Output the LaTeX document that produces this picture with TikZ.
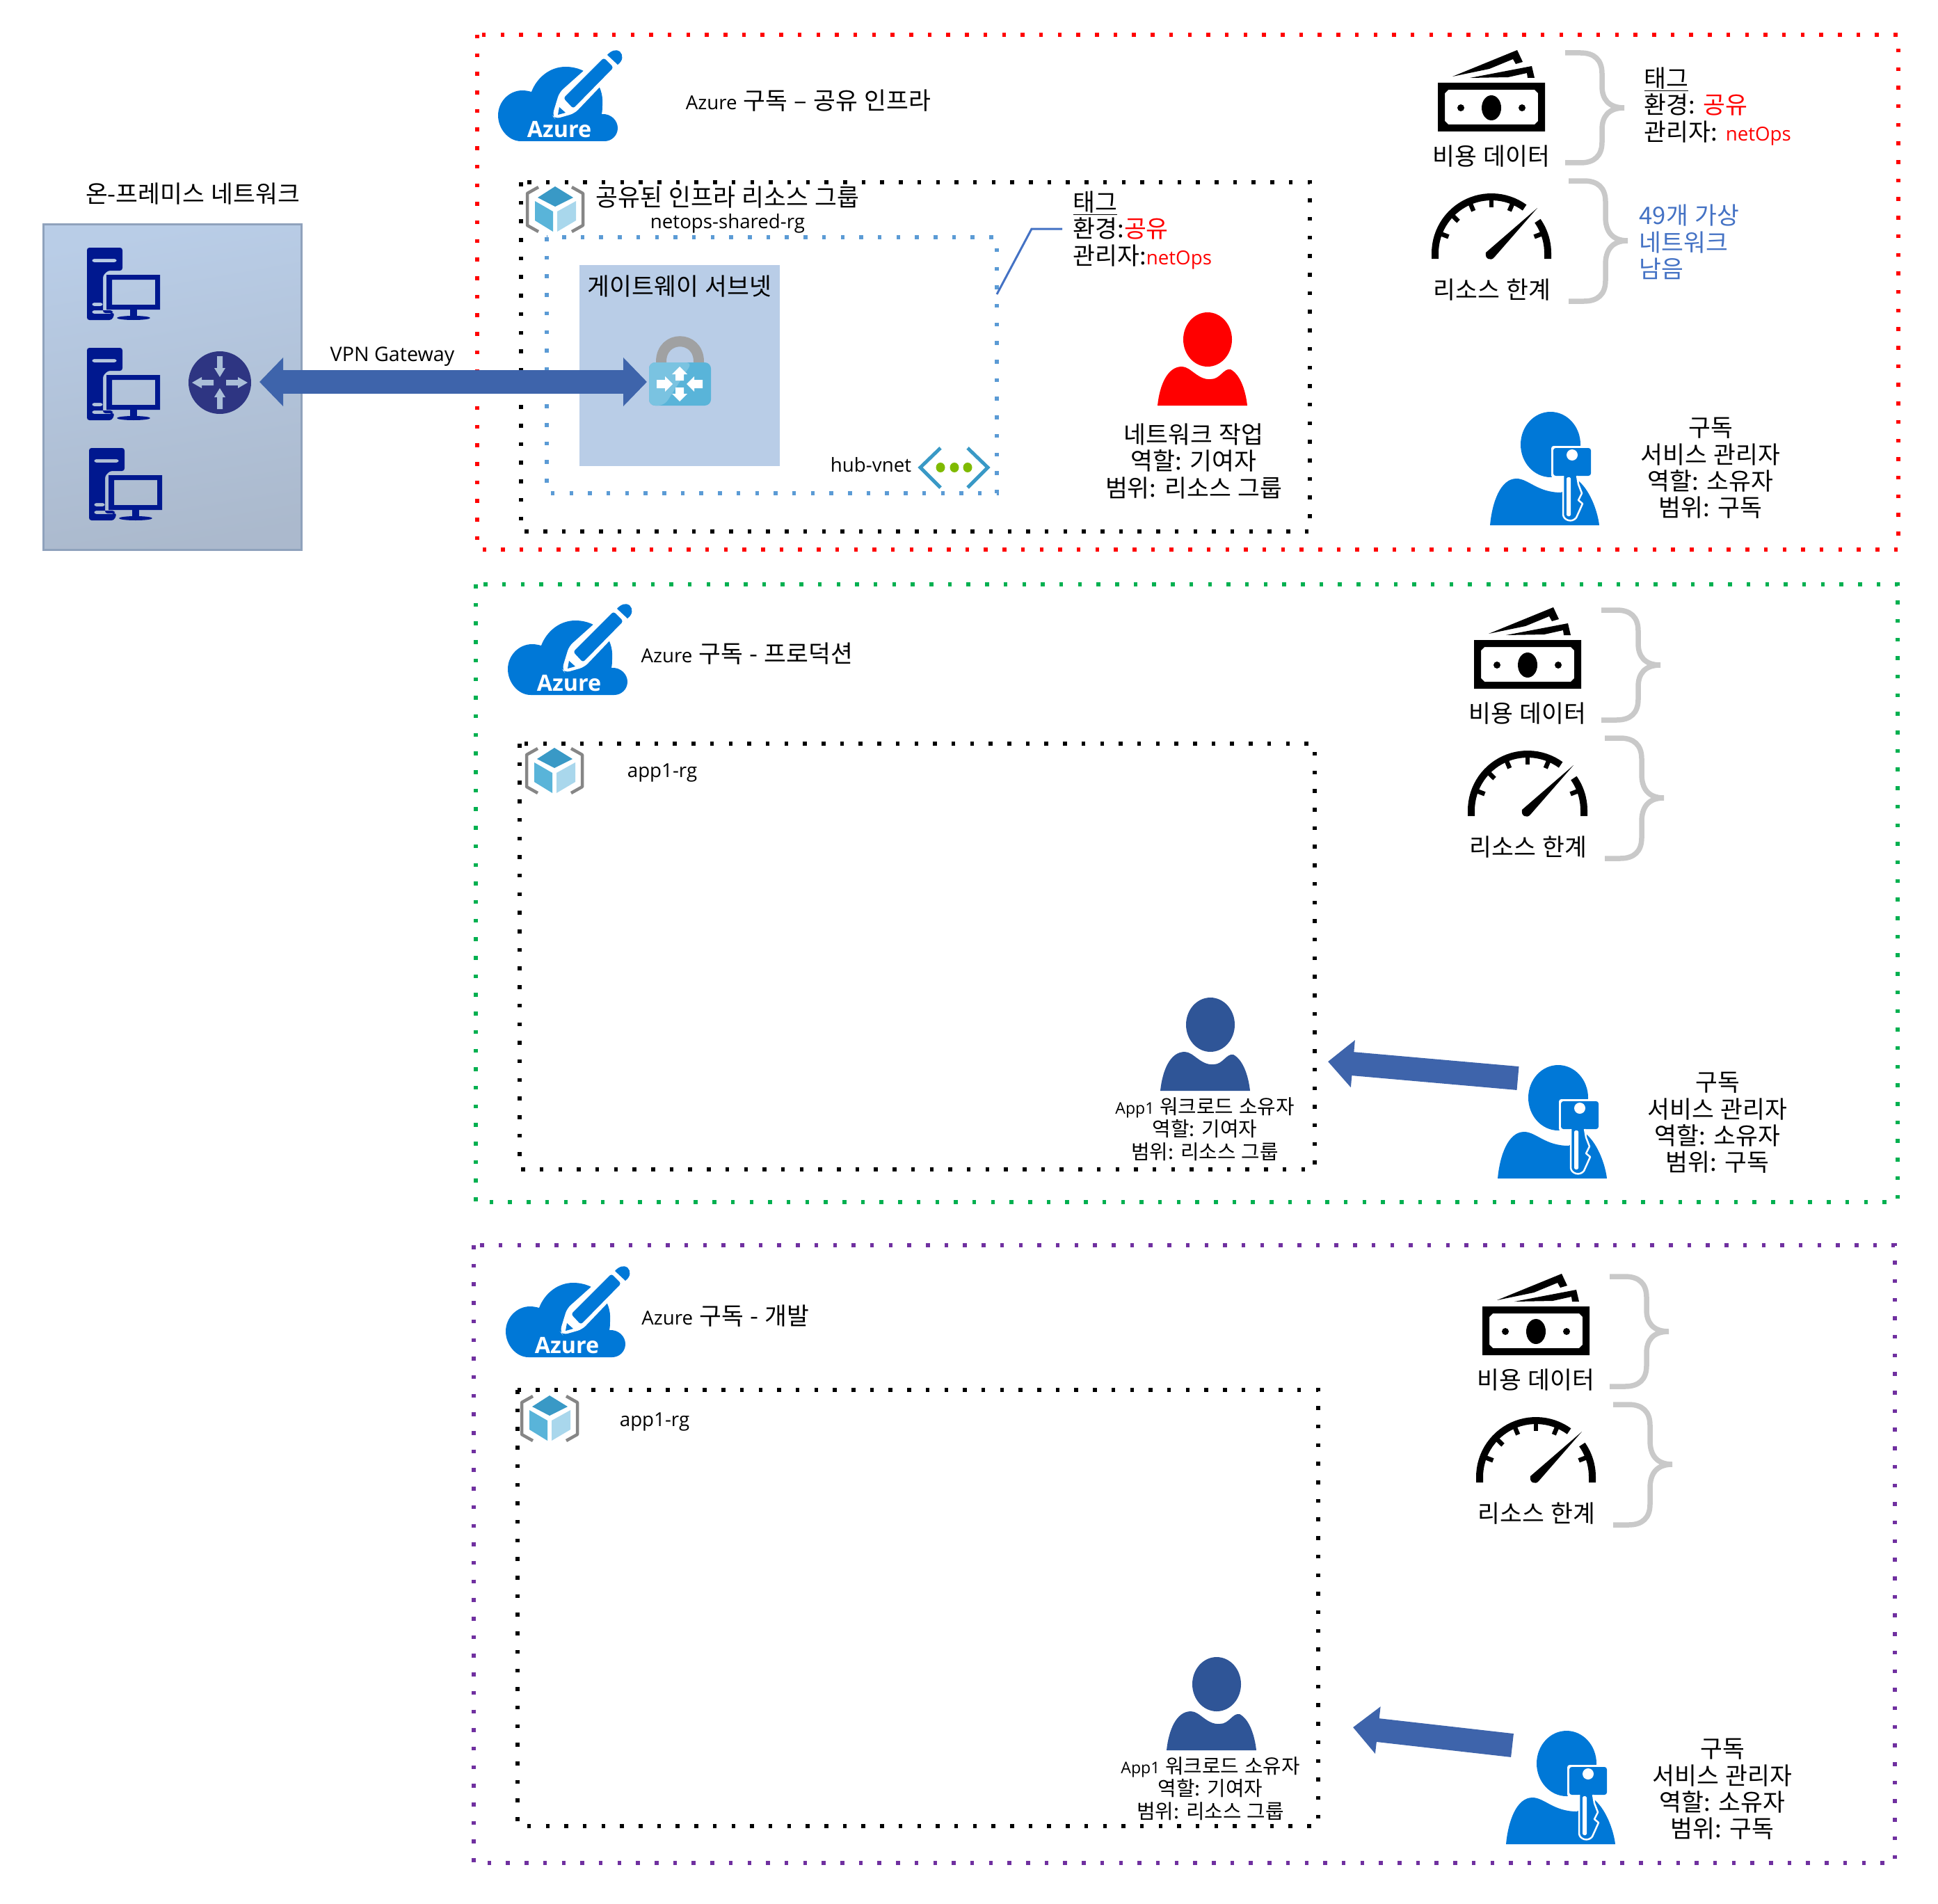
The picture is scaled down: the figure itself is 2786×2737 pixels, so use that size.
\documentclass[tikz,border=0pt]{standalone}
\usepackage{fontspec}
\setmainfont{Noto Sans CJK KR}[WordSpace=1.2]
\newfontfamily\lat[Scale=0.80]{Open Sans}
\usetikzlibrary{arrows.meta}
\definecolor{azblue}{HTML}{0078D7}
\definecolor{fatblue}{HTML}{3E64AB}
\definecolor{srvblue}{HTML}{00188F}
\definecolor{linkblue}{HTML}{4472C4}
\definecolor{owner}{HTML}{2F5597}
\definecolor{brace}{HTML}{C9C9C9}
\definecolor{subnet}{HTML}{B9CDE7}
\definecolor{boxedge}{HTML}{8FA2BC}
\definecolor{cubetop}{HTML}{3999C6}
\definecolor{cubeleft}{HTML}{59B4D9}
\definecolor{cuberight}{HTML}{A9D7EC}
\definecolor{routerblue}{HTML}{2E3582}
\definecolor{greendot}{HTML}{7FBA00}
\definecolor{greenframe}{HTML}{00B050}
\definecolor{purpleframe}{HTML}{7030A0}
\definecolor{hubdot}{HTML}{5B9BD5}
\definecolor{shackle}{HTML}{A0A1A2}
\newcommand{\ulined}[1]{\leavevmode\setbox0=\hbox{#1}\rlap{\rule[-1.6pt]{\wd0}{0.5pt}}\box0}

\tikzset{
  txt/.style={inner sep=0pt, align=center, font=\fontsize{9.85}{10.9}\selectfont},
  txtl/.style={txt, align=left, anchor=west},
  small/.style={inner sep=0pt, align=center, font=\fontsize{8.2}{9.3}\selectfont},
  frame/.style={line width=0.55mm, dash pattern=on 0.55mm off 2.12mm},
  fat/.style={fatblue, line width=3.4mm},
  % icons, drawn from their top left corner
  azureicon/.pic={
    \fill[azblue] (33,132) .. controls (14,132) and (0,113) .. (0,95)
      .. controls (0,75) and (16,59) .. (35,59) .. controls (40,59) and (44,60) .. (48,61)
      .. controls (56,40) and (75,25) .. (97,25) .. controls (130,25) and (152,50) .. (150,78)
      .. controls (150,84) and (150,88) .. (149,93) .. controls (162,92) and (172,102) .. (172,113)
      .. controls (172,124) and (163,132) .. (153,132) -- cycle;
    \fill[white, rounded corners=2pt] (154,3) -- (175,24) -- (110,92) -- (82,100) -- (78,95) -- (88,62) -- cycle;
    \fill[azblue, rounded corners=1pt] (152,12) -- (166,26) -- (108,85) -- (94,70) -- cycle;
    \fill[azblue] (88,83) -- (97,91) -- (86,94) -- cycle;
    \fill[azblue] (157,8) .. controls (162,2) and (170,-1) .. (175,3) .. controls (180,8) and (180,16) .. (172,22) -- cycle;
    \node[white, inner sep=0pt, font=\fontsize{11.5}{12}\selectfont\lat\bfseries] (-name) at (88,115) {Azure};
  },
  cubeicon/.pic={
    \draw[gray!95, line width=0.45mm, line join=round] (18,2) -- (2,11) -- (2,57) -- (18,66);
    \draw[gray!95, line width=0.45mm, line join=round] (66,2) -- (82,11) -- (82,57) -- (66,66);
    \fill[cubetop] (42,1) -- (68,17) -- (42,30) -- (17,17) -- cycle;
    \fill[cubeleft] (13,22) -- (39,37) -- (39,66) -- (13,50) -- cycle;
    \fill[cuberight] (45,37) -- (72,22) -- (72,50) -- (45,66) -- cycle;
  },
  servericon/.pic={
    \fill[srvblue, even odd rule, rounded corners=1pt]
      (0,0) -- (51,0) -- (51,33) -- (30,33) -- (23,40) -- (23,94) -- (40,94) -- (36,104) -- (0,104) -- cycle
      (7,16) rectangle (43,21) (7,79) rectangle (23,84) (7,90) rectangle (37,95);
    \fill[srvblue, even odd rule] (28,39) rectangle (105,89) (36,46) rectangle (98,82);
    \fill[srvblue] (62,89) rectangle (72,99);
    \fill[srvblue] (67,101) ellipse (24 and 3);
  },
  usericon/.pic={
    \fill[pic actions] (72,39) ellipse (35 and 39);
    \fill[pic actions] (0,134) .. controls (3,105) and (14,78) .. (35,78)
      .. controls (48,78) and (58,98) .. (77,96) .. controls (90,96) and (95,80) .. (105,82)
      .. controls (120,90) and (127,115) .. (129,134) -- cycle;
  },
  keyicon/.pic={
    \fill[azblue] (87,47) ellipse (43 and 47);
    \fill[azblue] (0,163) .. controls (3,130) and (15,96) .. (38,96)
      .. controls (55,96) and (68,116) .. (102,116) -- (128,100)
      .. controls (145,115) and (155,145) .. (157,163) -- cycle;
    \fill[white, rounded corners=1pt] (88,49) rectangle (147,95);
    \fill[azblue, rounded corners=1pt] (91,52) rectangle (145,92);
    \fill[white] (118,62) circle (8);
    \draw[white, fill=azblue, line width=0.25mm, line join=round] (105,92) -- (105,148)
      .. controls (106,156) and (118,160) .. (124,152) -- (129,141) -- (133,132) -- (127,127)
      -- (132,117) -- (127,104) -- (125,92);
    \fill[white, rounded corners=0.5pt] (110,94) rectangle (116,150);
  },
  moneyicon/.pic={
    \fill[even odd rule] (0,47) rectangle (154,117)
      (15,57) -- (139,57) -- (144,62) -- (144,102) -- (139,107) -- (15,107) -- (10,102) -- (10,62) -- cycle;
    \fill (77,83) ellipse (14 and 18);
    \fill (33,83) circle (5);
    \fill (121,83) circle (5);
    \fill (21,38) -- (114,0) -- (122,17) -- (112,20) -- (108,13) -- (74,27) -- cycle;
    \fill (46,40) -- (135,23) -- (139,40) -- (129,40) -- (128,33) -- (101,39) -- cycle;
  },
  gaugeicon/.pic={
    \draw[line width=1mm] (5,94) -- plot[domain=180:54, samples=30] ({86+81*cos(\x)},{86-81*sin(\x)});
    \draw[line width=1mm] plot[domain=35:0, samples=12] ({86+81*cos(\x)},{86-81*sin(\x)}) -- (167,94);
    \foreach \a in {21,67,90,113,136,159}
      \draw[line width=0.65mm] ({86+77*cos(\a)},{86-77*sin(\a)}) -- ({86+66*cos(\a)},{86-66*sin(\a)});
    \fill (152,21) -- (90,92) .. controls (85,98) and (76,94) .. (78,85) -- cycle;
  },
  costset/.pic={
    \pic at (0,0) {moneyicon};
    \node[txt] (-cost) at (77,153) {비용 데이터};
    \pic at (-9,206) {gaugeicon};
    \node[txt] (-limit) at (78,345) {리소스 한계};
    \draw[brace, line width=0.75mm] (183,4) -- (205,4) .. controls (225,4) and (236,14) .. (236,34) -- (236,52)
      .. controls (236,70) and (245,83) .. (268,83) .. controls (245,83) and (236,96) .. (236,114) -- (236,132)
      .. controls (236,152) and (225,162) .. (205,162) -- (183,162);
    \draw[brace, line width=0.75mm] (188,188) -- (210,188) .. controls (230,188) and (241,198) .. (241,218) -- (241,240)
      .. controls (241,260) and (250,274) .. (273,274) .. controls (250,274) and (241,288) .. (241,308) -- (241,331)
      .. controls (241,351) and (230,361) .. (210,361) -- (188,361);
  },
}

\begin{document}
\begin{tikzpicture}[x=0.1mm, y=-0.1mm, line cap=butt]
\useasboundingbox (0,0) rectangle (2786,2737);

% on-premises network
\node[txt] (onprem) at (277,279) {온-프레미스 네트워크};
\shade[draw=boxedge, line width=0.3mm, top color=subnet, middle color=subnet!60!boxedge!90!white, bottom color=boxedge!75!white, shading angle=10] (62,322) rectangle (433,790);
\pic at (125,356) {servericon};
\pic at (125,500) {servericon};
\pic at (128,644) {servericon};
\node[circle, fill=routerblue, minimum size=9mm, inner sep=0pt] (router) at (316,550) {};
\foreach \a in {0,180}
  \fill[subnet!65!boxedge, rotate around={\a:(316,550)}] (325,546) -- (342,546) -- (342,542) -- (356,550) -- (342,558) -- (342,554) -- (325,554) -- cycle;
\foreach \a in {90,270}
  \fill[subnet!65!boxedge, rotate around={\a:(316,550)}] (354,546) -- (337,546) -- (337,542) -- (324,550) -- (337,558) -- (337,554) -- (354,554) -- cycle;

% shared infrastructure subscription
\draw[red, frame] (686,50) rectangle (2729,790);
\pic at (716,71) {azureicon};
\node[txt] (sub1) at (1162,145) {{\lat Azure} 구독 – 공유 인프라};
\draw[frame] (749,262) rectangle (1883,764);
\draw[hubdot, frame] (786,341) rectangle (1433,709);
\pic at (756,267) {cubeicon};
\node[txt] (rg1) at (1046,284) {공유된 인프라 리소스 그룹};
\node[txt] (rgname1) at (1046,321) {\lat netops-shared-rg};
\fill[subnet] (833,381) rectangle (1121,670);
\node[txt] (gwsubnet) at (977,412) {게이트웨이 서브넷};
% gateway lock
\draw[shackle, line width=1.5mm] (950.5,525) -- (950.5,520) .. controls (950.5,481) and (1004.5,481) .. (1004.5,520) -- (1004.5,525);
\fill[cubeleft, rounded corners=2.5pt] (933,521) rectangle (1022,583);
\fill[cubeleft!80!white, rounded corners=2.5pt] (933,521) -- (995,521) -- (955,583) -- (933,583) -- cycle;
\foreach \a in {0,180}
  \fill[white, rotate around={\a:(977,552)}] (1010,546) -- (998,546) -- (998,541) -- (987,552) -- (998,563) -- (998,558) -- (1010,558) -- cycle;
\foreach \a in {90,270}
  \fill[white, rotate around={\a:(977,552)}] (982,546) -- (991,546) -- (991,541) -- (1002,552) -- (991,563) -- (991,558) -- (982,558) -- cycle;
% vnet
\node[txt] (hub) at (1252,668) {\lat hub-vnet};
\draw[cubetop, line width=0.5mm] (1352,644) -- (1323,672) -- (1352,701);
\draw[cubetop, line width=0.5mm] (1391,644) -- (1420,672) -- (1391,701);
\foreach \x in {1352,1372,1391}
  \fill[greendot] (\x,672) ellipse (6.5 and 7);
% tag of the vnet
\node[txtl] (tag1) at (1542,331) {\ulined{태그}\\환경:\textcolor{red}{공유}\\관리자:\textcolor{red}{\lat netOps}};
\coordinate (hubedge) at (1433,423);
\coordinate (tagbend) at (1483,329);
\coordinate (tagstub) at (1527,329);
\draw[linkblue, line width=0.3mm] (hubedge) -- (tagbend) -- (tagstub);
\pic[fill=red] at (1664,449) {usericon};
\node[txt] (netop) at (1716,663) {네트워크 작업\\역할: 기여자\\범위: 리소스 그룹};
% cost and limits
\foreach \mx/\my/\n in {2067/72/1,2119/873/2,2131/1831/3}
  \pic (cost\n) at (\mx,\my) {costset};
\node[txtl] (tag2) at (2363,153) {\ulined{태그}\\환경: \textcolor{red}{공유}\\관리자: \textcolor{red}{\lat netOps}};
\node[txtl, linkblue] (left49) at (2356,348) {49개 가상\\네트워크\\남음};
\pic at (2142,592) {keyicon};
\node[txt] (admin1) at (2459,673) {구독\\서비스 관리자\\역할: 소유자\\범위: 구독};

% VPN connection
\coordinate (vpnleft) at (373,549);
\coordinate (vpnright) at (930,549);
\draw[fat, {Triangle[width=6.8mm,length=3.4mm]}-{Triangle[width=6.8mm,length=3.4mm]}] (vpnleft) -- (vpnright);
\node[small, font=\fontsize{10.2}{11}\selectfont\lat] (vpn) at (564,513) {VPN Gateway};

% production subscription
\draw[greenframe, frame] (684,840) rectangle (2728,1728);
\pic at (730,867) {azureicon};
\node[txt] (sub2) at (1074,940) {{\lat Azure} 구독 - 프로덕션};
\draw[frame] (747,1069) rectangle (1890,1681);
\pic at (755,1074) {cubeicon};
\node[txt] (rg2) at (952,1111) {\lat app1-rg};
\pic[fill=owner] at (1668,1434) {usericon};
\node[small] (owner2) at (1732,1623) {{\lat App1} 워크로드 소유자\\역할: 기여자\\범위: 리소스 그룹};
\pic at (2153,1531) {keyicon};
\node[txt] (admin2) at (2469,1614) {구독\\서비스 관리자\\역할: 소유자\\범위: 구독};
\coordinate (tail2) at (2182,1550);
\coordinate (tip2) at (1909,1526);
\draw[fat, -{Triangle[width=6.6mm,length=3.6mm]}] (tail2) -- (tip2);

% dev subscription
\draw[purpleframe, frame] (681,1790) rectangle (2724,2678);
\pic at (727,1819) {azureicon};
\node[txt] (sub3) at (1043,1892) {{\lat Azure} 구독 - 개발};
\draw[frame] (744,1998) rectangle (1895,2625);
\pic at (748,2005) {cubeicon};
\node[txt] (rg3) at (941,2044) {\lat app1-rg};
\pic[fill=owner] at (1677,2382) {usericon};
\node[small] (owner3) at (1740,2571) {{\lat App1} 워크로드 소유자\\역할: 기여자\\범위: 리소스 그룹};
\pic at (2165,2488) {keyicon};
\node[txt] (admin3) at (2476,2572) {구독\\서비스 관리자\\역할: 소유자\\범위: 구독};
\coordinate (tail3) at (2174,2509);
\coordinate (tip3) at (1945,2483);
\draw[fat, -{Triangle[width=6.6mm,length=3.6mm]}] (tail3) -- (tip3);
\end{tikzpicture}
\end{document}
